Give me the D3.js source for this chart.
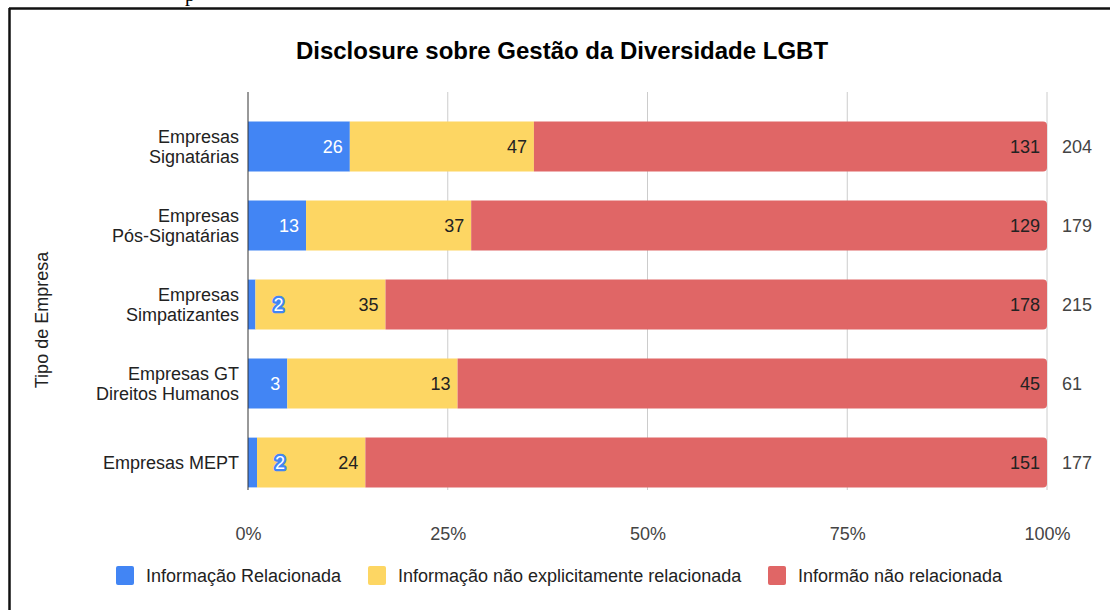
<!DOCTYPE html>
<html>
<head>
<meta charset="utf-8">
<script src="https://cdn.jsdelivr.net/npm/d3@7"></script>
<style>
  body { margin: 0; background: #fff; }
  text { font-family: 'Liberation Sans', Arial, sans-serif; }
</style>
</head>
<body>
<div id="chart"></div>
<script>
const width = 1110;
const height = 610;

const categories = [
    ["Empresas", "Signatárias"],
    ["Empresas", "Pós-Signatárias"],
    ["Empresas", "Simpatizantes"],
    ["Empresas GT", "Direitos Humanos"],
    ["Empresas MEPT"]
];
const seriesNames = ["Informação Relacionada", "Informação não explicitamente relacionada", "Informão não relacionada"];
const relacionada = [26, 13, 2, 3, 2];
const naoExplicita = [47, 37, 35, 13, 24];
const naoRelacionada = [131, 129, 178, 45, 151];
const totals = [204, 179, 215, 61, 177];
const tickValues = [0, 0.25, 0.5, 0.75, 1];

const colors = ["#4285f4", "#fdd663", "#e06666"];

const svg = d3.select("#chart")
    .append("svg")
    .attr("width", width)
    .attr("height", height);

// frame from the screenshot
svg.append("line").attr("x1", 9).attr("x2", width).attr("y1", 8.5).attr("y2", 8.5)
    .attr("stroke", "#111").attr("stroke-width", 2.5);
svg.append("line").attr("x1", 9.5).attr("x2", 9.5).attr("y1", 8).attr("y2", height)
    .attr("stroke", "#111").attr("stroke-width", 2.5);
svg.append("text").attr("x", 185).attr("y", 1).text("p")
    .style("font-family", "Liberation Serif").style("font-size", "20px");

const xScale = d3.scaleLinear().domain([0, 1]).range([248, 1047]);
const yScale = d3.scaleBand()
    .domain(d3.range(categories.length))
    .range([107, 502])
    .paddingInner(0.37)
    .paddingOuter(0.185);

// gridlines
svg.append("g")
    .selectAll("line")
    .data(tickValues.slice(1))
    .enter()
    .append("line")
    .attr("x1", d => xScale(d)).attr("x2", d => xScale(d))
    .attr("y1", 92).attr("y2", 490)
    .attr("stroke", "#cccccc").attr("stroke-width", 1);

// title
svg.append("text")
    .attr("x", 562).attr("y", 59)
    .attr("text-anchor", "middle")
    .style("font-weight", "bold")
    .style("font-size", "24px")
    .style("fill", "#000")
    .text("Disclosure sobre Gestão da Diversidade LGBT");

const rows = categories.map((c, i) => {
    const vals = [relacionada[i], naoExplicita[i], naoRelacionada[i]];
    const sum = d3.sum(vals);
    let acc = 0;
    return vals.map((v, k) => {
        const seg = {row: i, k: k, v: v, x0: acc / sum, x1: (acc + v) / sum};
        acc += v;
        return seg;
    });
});

// rounded right end only for the last segment
function segPath(s) {
    const x0 = xScale(s.x0), x1 = xScale(s.x1);
    const y0 = yScale(s.row), h = yScale.bandwidth();
    if (s.k < 2) return `M${x0},${y0}H${x1}V${y0 + h}H${x0}Z`;
    const r = 4;
    return `M${x0},${y0}H${x1 - r}Q${x1},${y0} ${x1},${y0 + r}V${y0 + h - r}Q${x1},${y0 + h} ${x1 - r},${y0 + h}H${x0}Z`;
}

const segs = rows.flat();
svg.append("g")
    .selectAll("path")
    .data(segs)
    .enter()
    .append("path")
    .attr("d", segPath)
    .attr("fill", d => colors[d.k]);

// value labels
const labels = svg.append("g");
segs.forEach(s => {
    const x1 = xScale(s.x1);
    const w = x1 - xScale(s.x0);
    const cy = yScale(s.row) + yScale.bandwidth() / 2;
    const t = labels.append("text")
        .attr("y", cy)
        .attr("dy", "0.35em")
        .style("font-size", "18px")
        .text(s.v);
    if (w < 22) {
        // too small: put it outside with a halo
        t.attr("x", x1 + 23).attr("text-anchor", "middle")
            .style("fill", "#fff")
            .style("stroke", colors[s.k])
            .style("stroke-width", 4.5)
            .style("paint-order", "stroke")
            .style("stroke-linejoin", "round");
    } else {
        t.attr("x", x1 - 7).attr("text-anchor", "end")
            .style("fill", s.k === 0 ? "#fff" : "#222");
    }
});

// totals
svg.append("g")
    .selectAll("text")
    .data(totals)
    .enter()
    .append("text")
    .attr("x", 1062)
    .attr("y", (d, i) => yScale(i) + yScale.bandwidth() / 2)
    .attr("dy", "0.35em")
    .style("font-size", "18px")
    .style("fill", "#444")
    .text(d => d);

// baseline axis
svg.append("line")
    .attr("x1", xScale(0)).attr("x2", xScale(0))
    .attr("y1", 92).attr("y2", 490)
    .attr("stroke", "#333").attr("stroke-width", 1);

// x tick labels
svg.append("g")
    .attr("transform", "translate(0,537)")
    .call(d3.axisBottom(xScale).tickValues(tickValues).tickFormat(d3.format(".0%")).tickSize(0))
    .call(g => g.select(".domain").remove())
    .call(g => g.selectAll("text")
        .attr("dy", 0)
        .style("font-family", "'Liberation Sans', Arial, sans-serif")
        .style("font-size", "18px")
        .style("fill", "#444"));

// category labels
const cat = svg.append("g");
categories.forEach((lines, i) => {
    const cy = yScale(i) + yScale.bandwidth() / 2;
    const t = cat.append("text")
        .attr("x", 239)
        .attr("text-anchor", "end")
        .style("font-size", "18px")
        .style("fill", "#222");
    lines.forEach((l, j) => {
        t.append("tspan")
            .attr("x", 239)
            .attr("y", cy + (j - (lines.length - 1) / 2) * 20)
            .attr("dy", "0.35em")
            .text(l);
    });
});

// y axis title
svg.append("text")
    .attr("transform", "rotate(-90)")
    .attr("x", -320)
    .attr("y", 48)
    .attr("text-anchor", "middle")
    .style("font-size", "18px")
    .style("fill", "#222")
    .text("Tipo de Empresa");

// legend
const legendX = [116, 368, 768];
const legend = svg.selectAll(".legend")
    .data(seriesNames)
    .enter()
    .append("g")
    .attr("class", "legend")
    .attr("transform", (d, i) => `translate(${legendX[i]}, 566)`);

legend.append("rect")
    .attr("width", 18).attr("height", 19).attr("rx", 2)
    .style("fill", (d, i) => colors[i]);

legend.append("text")
    .attr("x", 30)
    .attr("y", 10)
    .attr("dy", "0.35em")
    .style("font-size", "18px")
    .style("fill", "#222")
    .text(d => d);
</script>
</body>
</html>
